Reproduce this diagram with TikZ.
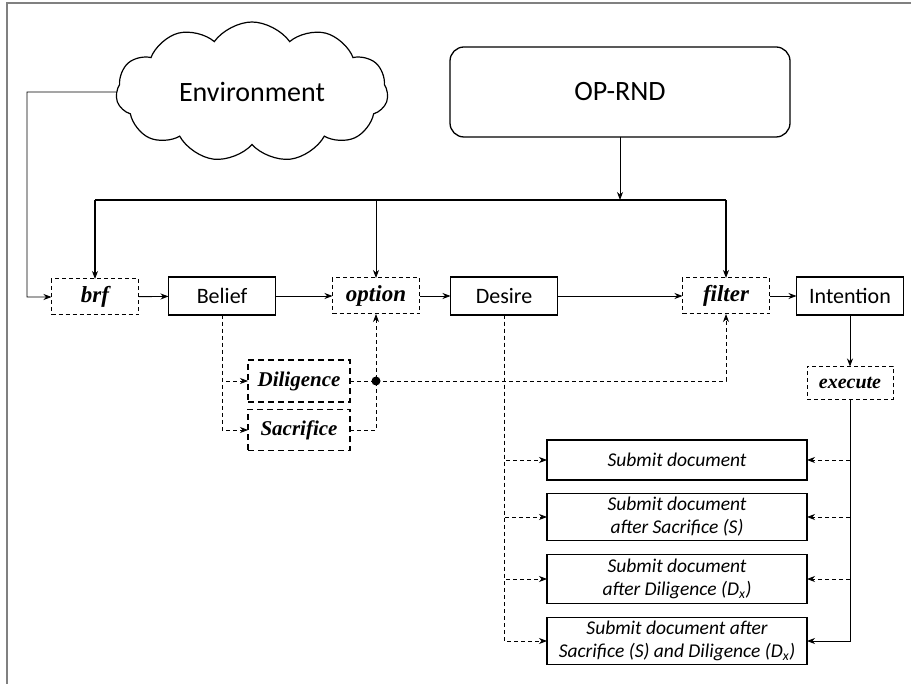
\documentclass[tikz,border=0pt]{standalone}
\usepackage{fontspec}
\newfontfamily\calib{Carlito}
\newfontfamily\tms{Liberation Serif}
\usetikzlibrary{shapes.symbols,arrows.meta}
\begin{document}
\begin{tikzpicture}[x=1pt,y=-1pt,
  >={Stealth[length=8pt,width=6pt,inset=2.5pt]},
  every node/.style={inner sep=0pt, outer sep=0pt},
  sbox/.style={draw, line width=1.3pt, minimum width=107pt, minimum height=38pt, font=\calib\fontsize{22}{24}\selectfont},
  dbox/.style={draw, line width=1pt, dash pattern=on 4pt off 3pt, minimum width=87pt, minimum height=36pt, font=\tms\fontsize{23}{26}\selectfont\bfseries\itshape},
  tbox/.style={draw, line width=1.5pt, dash pattern=on 6pt off 4pt, minimum width=102pt, font=\tms\fontsize{21}{24}\selectfont\bfseries\itshape},
  obox/.style={draw, line width=1.3pt, minimum width=260pt, align=center, font=\calib\itshape\fontsize{19.5}{23}\selectfont},
  conn/.style={line width=0.9pt},
  bus/.style={line width=1.3pt},
  dconn/.style={line width=0.9pt, dash pattern=on 4pt off 3pt}]

\fill[white] (0,0) rectangle (911,684);
\useasboundingbox (0,0) rectangle (911,684);
\draw[gray, line width=2pt] (7,684) -- (7,3) -- (911,3);

\node[cloud, draw, line width=1.2pt, cloud puffs=11, cloud puff arc=110, cloud ignores aspect,
      minimum width=272pt, minimum height=140pt, font=\calib\fontsize{28}{30}\selectfont] (env) at (252,92) {Environment};
\node[draw, rounded corners=14pt, line width=1.3pt, minimum width=340pt, minimum height=90pt,
      font=\calib\fontsize{28}{30}\selectfont] (op) at (620,92) {OP-RND};

\node[dbox] (brf) at (95,297) {brf};
\node[sbox] (belief) at (222,296) {Belief};
\node[dbox] (option) at (376,296) {option};
\node[sbox] (desire) at (504,296) {Desire};
\node[dbox] (filter) at (726,296) {filter};
\node[sbox] (intention) at (850,296) {Intention};
\node[dbox, minimum width=86pt, minimum height=33pt, font=\tms\fontsize{20}{22}\selectfont\bfseries\itshape] (execute) at (850,383) {execute};

\node[tbox, minimum height=42pt] (dil) at (299,381) {Diligence};
\node[tbox, minimum height=41pt] (sac) at (299,430) {Sacrifice};

\node[obox, minimum height=40pt] (o1) at (677,460) {Submit document};
\node[obox, minimum height=47pt] (o2) at (677,517) {Submit document\\after Sacrifice (S)};
\node[obox, minimum height=49pt] (o3) at (677,579) {Submit document\\after Diligence (D\textsubscript{x})};
\node[obox, minimum height=47pt] (o4) at (677,641) {Submit document after\\Sacrifice (S) and Diligence (D\textsubscript{x})};

% environment to brf
\coordinate (envc) at (27,92);
\draw[conn,->] (env.west) -- (envc) |- (brf.west);

% main chain
\draw[conn,->] (brf) -- (belief);
\draw[conn,->] (belief) -- (option);
\draw[conn,->] (option) -- (desire);
\draw[conn,->] (desire) -- (filter);
\draw[conn,->] (filter) -- (intention);
\draw[conn,->] (intention) -- (execute);

% bus from OP-RND
\coordinate (bl) at (95,200);
\coordinate (br) at (726,200);
\draw[bus] (bl) -- (br);
\draw[bus,->] (bl) -- (brf.north);
\draw[bus,->] (br) -- (filter.north);
\draw[conn,->] (bl -| option) -- (option.north);
\draw[conn,->] (op.south) -- (op.south |- bl);

% belief to diligence / sacrifice
\draw[dconn,->] (belief.south) |- (dil.west);
\draw[dconn,->] (belief.south) |- (sac.west);
\draw[dconn,->] (sac.east) -| (option.south);
\coordinate (dot) at (option |- dil);
\draw[dconn] (dil.east) -- (dot);
\draw[dconn,->] (dot) -| (filter.south);
\fill (dot) circle (4.5pt);

% desire to outputs
\draw[dconn,->] (desire.south) |- (o1.west);
\draw[dconn,->] (desire.south) |- (o2.west);
\draw[dconn,->] (desire.south) |- (o3.west);
\draw[dconn,->] (desire.south) |- (o4.west);

% execute to outputs
\draw[conn,->] (execute.south) |- (o4.east);
\draw[dconn,->] (execute |- o1) -- (o1.east);
\draw[dconn,->] (execute |- o2) -- (o2.east);
\draw[dconn,->] (execute |- o3) -- (o3.east);
\end{tikzpicture}
\end{document}
